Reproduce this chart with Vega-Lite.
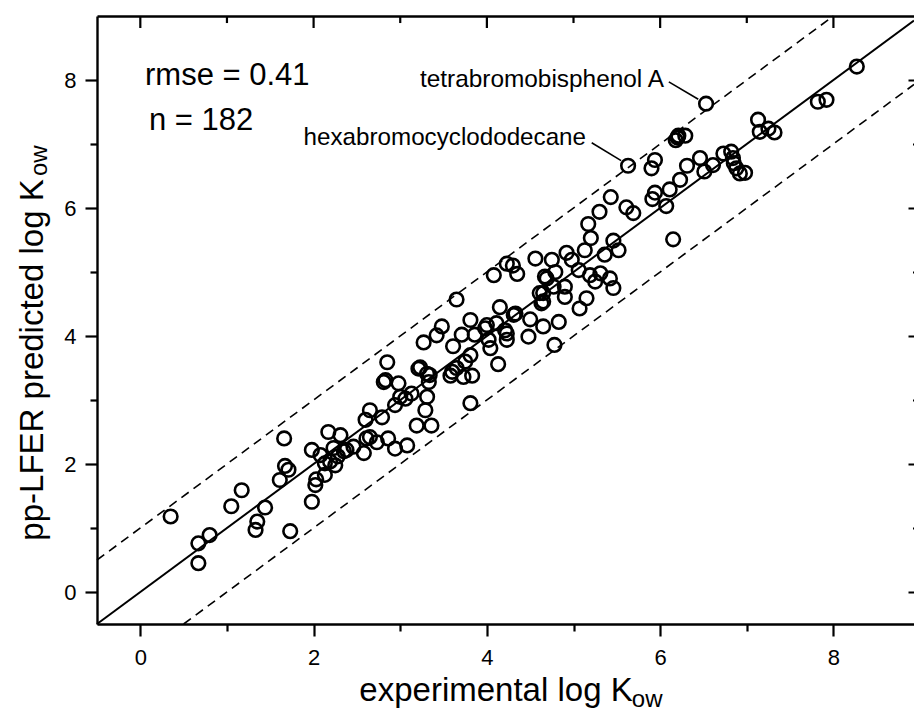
{
  "$schema": "https://vega.github.io/schema/vega-lite/v6.json",
  "width": 817,
  "height": 608,
  "autosize": {"type": "none"},
  "padding": {"left": 97, "top": 16, "right": 0, "bottom": 90},
  "background": "white",
  "config": {
    "view": {"stroke": null},
    "font": "Liberation Sans",
    "axis": {"domainColor": "black", "domainWidth": 2.4, "tickColor": "black", "tickWidth": 2.2, "labelColor": "black", "titleColor": "black", "gridColor": "black", "gridOpacity": 1, "gridWidth": 2.2}
  },
  "datasets": {
    "kow": [
      {"experimental":0.35,"predicted":1.18},{"experimental":0.67,"predicted":0.76},{"experimental":0.80,"predicted":0.89},{"experimental":0.67,"predicted":0.45},{"experimental":1.05,"predicted":1.34},{"experimental":1.17,"predicted":1.59},{"experimental":1.35,"predicted":1.10},{"experimental":1.33,"predicted":0.97},{"experimental":1.44,"predicted":1.32},{"experimental":1.73,"predicted":0.95},{"experimental":1.61,"predicted":1.75},{"experimental":1.67,"predicted":1.97},{"experimental":1.71,"predicted":1.91},{"experimental":1.66,"predicted":2.40},{"experimental":1.98,"predicted":1.41},{"experimental":2.02,"predicted":1.67},{"experimental":2.03,"predicted":1.76},{"experimental":1.98,"predicted":2.22},{"experimental":2.08,"predicted":2.14},{"experimental":2.13,"predicted":1.83},{"experimental":2.13,"predicted":2.01},{"experimental":2.17,"predicted":2.50},{"experimental":2.31,"predicted":2.45},{"experimental":2.23,"predicted":2.25},{"experimental":2.38,"predicted":2.22},{"experimental":2.46,"predicted":2.27},{"experimental":2.25,"predicted":1.98},{"experimental":2.58,"predicted":2.17},{"experimental":2.60,"predicted":2.69},{"experimental":2.61,"predicted":2.40},{"experimental":2.19,"predicted":2.04},{"experimental":2.28,"predicted":2.12},{"experimental":2.35,"predicted":2.20},
      {"experimental":2.65,"predicted":2.84},{"experimental":2.65,"predicted":2.42},{"experimental":2.73,"predicted":2.34},{"experimental":2.79,"predicted":2.73},{"experimental":2.81,"predicted":3.28},{"experimental":2.85,"predicted":3.59},{"experimental":2.94,"predicted":2.92},{"experimental":2.86,"predicted":2.40},{"experimental":2.94,"predicted":2.24},{"experimental":3.06,"predicted":3.02},{"experimental":3.00,"predicted":3.05},{"experimental":3.13,"predicted":3.10},{"experimental":3.08,"predicted":2.29},{"experimental":3.19,"predicted":2.60},{"experimental":3.21,"predicted":3.49},{"experimental":3.31,"predicted":3.05},{"experimental":3.29,"predicted":2.84},{"experimental":3.36,"predicted":2.60},{"experimental":3.33,"predicted":3.28},{"experimental":3.31,"predicted":3.41},{"experimental":3.60,"predicted":3.44},{"experimental":2.83,"predicted":3.31},{"experimental":2.98,"predicted":3.26},{"experimental":3.23,"predicted":3.51},{"experimental":3.34,"predicted":3.39},{"experimental":3.65,"predicted":3.50},{"experimental":3.58,"predicted":3.38},{"experimental":3.73,"predicted":3.36},{"experimental":3.83,"predicted":3.38},{"experimental":3.75,"predicted":3.60},{"experimental":3.81,"predicted":2.95},
      {"experimental":4.08,"predicted":4.95},{"experimental":4.35,"predicted":4.97},{"experimental":4.67,"predicted":4.93},{"experimental":3.65,"predicted":4.57},{"experimental":4.15,"predicted":4.45},{"experimental":4.33,"predicted":4.35},{"experimental":4.50,"predicted":4.26},{"experimental":4.65,"predicted":4.54},{"experimental":4.61,"predicted":4.67},{"experimental":3.81,"predicted":4.25},{"experimental":3.48,"predicted":4.15},{"experimental":3.42,"predicted":4.01},{"experimental":3.27,"predicted":3.90},{"experimental":3.71,"predicted":4.02},{"experimental":3.86,"predicted":4.02},{"experimental":4.00,"predicted":4.17},{"experimental":4.11,"predicted":4.20},{"experimental":4.02,"predicted":3.94},{"experimental":3.61,"predicted":3.84},{"experimental":3.81,"predicted":3.70},{"experimental":4.04,"predicted":3.81},{"experimental":4.23,"predicted":3.94},{"experimental":4.23,"predicted":4.04},{"experimental":4.48,"predicted":3.99},{"experimental":4.65,"predicted":4.15},{"experimental":4.78,"predicted":3.86},{"experimental":4.13,"predicted":3.56},{"experimental":3.98,"predicted":4.12},{"experimental":4.21,"predicted":4.09},{"experimental":4.31,"predicted":4.33},
      {"experimental":5.63,"predicted":6.66},{"experimental":5.90,"predicted":6.62},{"experimental":5.94,"predicted":6.75},{"experimental":5.43,"predicted":6.17},{"experimental":5.61,"predicted":6.01},{"experimental":5.69,"predicted":5.92},{"experimental":5.30,"predicted":5.94},{"experimental":5.17,"predicted":5.75},{"experimental":5.91,"predicted":6.14},{"experimental":5.94,"predicted":6.24},{"experimental":6.07,"predicted":6.03},{"experimental":6.11,"predicted":6.29},{"experimental":6.23,"predicted":6.44},{"experimental":6.31,"predicted":6.66},{"experimental":6.46,"predicted":6.78},{"experimental":6.51,"predicted":6.57},{"experimental":6.61,"predicted":6.67},{"experimental":6.15,"predicted":5.51},{"experimental":5.20,"predicted":5.53},{"experimental":5.13,"predicted":5.34},{"experimental":5.46,"predicted":5.49},{"experimental":5.52,"predicted":5.34},{"experimental":5.36,"predicted":5.27},{"experimental":4.92,"predicted":5.30},{"experimental":4.98,"predicted":5.19},{"experimental":4.56,"predicted":5.21},{"experimental":4.75,"predicted":5.19},{"experimental":4.23,"predicted":5.13},{"experimental":4.30,"predicted":5.10},{"experimental":4.79,"predicted":5.00},{"experimental":4.69,"predicted":4.90},{"experimental":4.77,"predicted":4.77},{"experimental":4.90,"predicted":4.77},{"experimental":5.06,"predicted":5.03},{"experimental":5.19,"predicted":4.95},{"experimental":5.31,"predicted":4.98},{"experimental":5.25,"predicted":4.85},{"experimental":5.42,"predicted":4.90},{"experimental":5.46,"predicted":4.75},{"experimental":5.15,"predicted":4.59},{"experimental":5.07,"predicted":4.43},{"experimental":4.90,"predicted":4.61},{"experimental":4.65,"predicted":4.67},{"experimental":4.63,"predicted":4.51},{"experimental":4.83,"predicted":4.22},
      {"experimental":6.53,"predicted":7.63},{"experimental":8.27,"predicted":8.21},{"experimental":7.82,"predicted":7.66},{"experimental":7.92,"predicted":7.69},{"experimental":7.13,"predicted":7.38},{"experimental":7.15,"predicted":7.19},{"experimental":7.25,"predicted":7.24},{"experimental":7.32,"predicted":7.18},{"experimental":6.21,"predicted":7.13},{"experimental":6.29,"predicted":7.13},{"experimental":6.18,"predicted":7.06},{"experimental":6.73,"predicted":6.85},{"experimental":6.82,"predicted":6.88},{"experimental":6.84,"predicted":6.78},{"experimental":6.88,"predicted":6.62},{"experimental":6.92,"predicted":6.54},{"experimental":6.98,"predicted":6.55},{"experimental":6.20,"predicted":7.10},{"experimental":6.85,"predicted":6.70}
    ],
    "majorTicks": [{"tick": 0}, {"tick": 2}, {"tick": 4}, {"tick": 6}, {"tick": 8}],
    "minorTicks": [{"tick": 1}, {"tick": 3}, {"tick": 5}, {"tick": 7}]
  },
  "layer": [
    {
      "data": {"name": "kow"},
      "mark": {"type": "point", "shape": "circle", "filled": false, "size": 185, "strokeWidth": 2.6, "color": "black", "opacity": 1},
      "encoding": {
        "x": {
          "field": "experimental", "type": "quantitative",
          "scale": {"domain": [-0.5, 8.93], "nice": false, "zero": false},
          "axis": {
            "orient": "bottom", "values": [0,2,4,6,8], "tickSize": 12, "grid": false,
            "labelFont": "Liberation Sans", "labelFontSize": 22, "labelPadding": 11, "labelFlush": false, "labelOverlap": false,
            "title": "experimental log K", "titleX": 398.5, "titleY": 76, "titleAlign": "center", "titleBaseline": "alphabetic", "titleAngle": 0,
            "titleFont": "Liberation Sans", "titleFontSize": 33, "titleFontWeight": "normal"
          }
        },
        "y": {
          "field": "predicted", "type": "quantitative",
          "scale": {"domain": [-0.5, 9], "nice": false, "zero": false},
          "axis": {
            "orient": "left", "values": [0,2,4,6,8], "tickSize": 12,
            "grid": true, "gridDash": [0, 811, 6, 0],
            "labelFont": "Liberation Sans", "labelFontSize": 22, "labelPadding": 9, "labelFlush": false, "labelOverlap": false,
            "title": "pp-LFER predicted log K", "titleX": -55, "titleY": 343.5, "titleAlign": "center", "titleBaseline": "alphabetic", "titleAngle": 270,
            "titleFont": "Liberation Sans", "titleFontSize": 33, "titleFontWeight": "normal"
          }
        }
      }
    },
    {
      "data": {"values": [{}]},
      "mark": {"type": "rule", "strokeWidth": 2, "color": "black"},
      "encoding": {
        "x": {"datum": -0.5, "type": "quantitative", "scale": {"domain": [-0.5, 8.93], "nice": false, "zero": false},
          "axis": {"orient": "bottom", "values": [1,3,5,7], "labels": false, "title": null, "domain": false, "tickSize": 7, "grid": false}},
        "y": {"datum": -0.5, "type": "quantitative", "scale": {"domain": [-0.5, 9], "nice": false, "zero": false},
          "axis": {"orient": "left", "values": [1,3,5,7], "labels": false, "title": null, "domain": false, "tickSize": 7,
            "grid": true, "gridDash": [0, 815.5, 1.5, 0]}},
        "x2": {"datum": 8.93},
        "y2": {"datum": 8.93}
      }
    },
    {
      "data": {"name": "majorTicks"},
      "mark": {"type": "rule", "strokeWidth": 2.2, "color": "black"},
      "encoding": {
        "x": {"field": "tick", "type": "quantitative", "scale": {"domain": [-0.5, 8.93], "nice": false, "zero": false}, "axis": null},
        "y": {"datum": 9, "type": "quantitative", "scale": {"domain": [-0.5, 9], "nice": false, "zero": false}, "axis": null},
        "y2": {"datum": 8.8125}
      }
    },
    {
      "data": {"name": "minorTicks"},
      "mark": {"type": "rule", "strokeWidth": 2.2, "color": "black"},
      "encoding": {
        "x": {"field": "tick", "type": "quantitative", "scale": {"domain": [-0.5, 8.93], "nice": false, "zero": false}, "axis": null},
        "y": {"datum": 9, "type": "quantitative", "scale": {"domain": [-0.5, 9], "nice": false, "zero": false}, "axis": null},
        "y2": {"datum": 8.89}
      }
    },
    {
      "data": {"values": [{}]},
      "mark": {"type": "rule", "strokeWidth": 1.6, "color": "black", "strokeDash": [9, 6]},
      "encoding": {
        "x": {"datum": -0.5, "type": "quantitative", "scale": {"domain": [-0.5, 8.93], "nice": false, "zero": false}, "axis": null},
        "y": {"datum": 0.5, "type": "quantitative", "scale": {"domain": [-0.5, 9], "nice": false, "zero": false}, "axis": null},
        "x2": {"datum": 8.0},
        "y2": {"datum": 9.0}
      }
    },
    {
      "data": {"values": [{}]},
      "mark": {"type": "rule", "strokeWidth": 1.6, "color": "black", "strokeDash": [9, 6]},
      "encoding": {
        "x": {"datum": 0.5, "type": "quantitative", "scale": {"domain": [-0.5, 8.93], "nice": false, "zero": false}, "axis": null},
        "y": {"datum": -0.5, "type": "quantitative", "scale": {"domain": [-0.5, 9], "nice": false, "zero": false}, "axis": null},
        "x2": {"datum": 8.93},
        "y2": {"datum": 7.93}
      }
    },
    {
      "data": {"values": [{}]},
      "mark": {"type": "rule", "strokeWidth": 1.6, "color": "black"},
      "encoding": {
        "x": {"datum": 6.10, "type": "quantitative", "scale": {"domain": [-0.5, 8.93], "nice": false, "zero": false},
          "axis": {"orient": "top", "ticks": false, "labels": false, "title": null, "domain": true, "grid": false}},
        "y": {"datum": 7.97, "type": "quantitative", "scale": {"domain": [-0.5, 9], "nice": false, "zero": false}, "axis": null},
        "x2": {"datum": 6.44},
        "y2": {"datum": 7.70}
      }
    },
    {
      "data": {"values": [{}]},
      "mark": {"type": "rule", "strokeWidth": 1.6, "color": "black"},
      "encoding": {
        "x": {"datum": 5.21, "type": "quantitative", "scale": {"domain": [-0.5, 8.93], "nice": false, "zero": false}, "axis": null},
        "y": {"datum": 7.02, "type": "quantitative", "scale": {"domain": [-0.5, 9], "nice": false, "zero": false}, "axis": null},
        "x2": {"datum": 5.55},
        "y2": {"datum": 6.74}
      }
    },
    {
      "data": {"values": [{}]},
      "mark": {"type": "text", "text": "rmse = 0.41", "align": "left", "baseline": "alphabetic", "fontSize": 31, "font": "Liberation Sans", "color": "black"},
      "encoding": {
        "x": {"datum": 0.054, "type": "quantitative", "scale": {"domain": [-0.5, 8.93], "nice": false, "zero": false}, "axis": null},
        "y": {"datum": 7.92, "type": "quantitative", "scale": {"domain": [-0.5, 9], "nice": false, "zero": false}, "axis": null}
      }
    },
    {
      "data": {"values": [{}]},
      "mark": {"type": "text", "text": "n = 182", "align": "left", "baseline": "alphabetic", "fontSize": 31, "font": "Liberation Sans", "color": "black"},
      "encoding": {
        "x": {"datum": 0.10, "type": "quantitative", "scale": {"domain": [-0.5, 8.93], "nice": false, "zero": false}, "axis": null},
        "y": {"datum": 7.22, "type": "quantitative", "scale": {"domain": [-0.5, 9], "nice": false, "zero": false}, "axis": null}
      }
    },
    {
      "data": {"values": [{}]},
      "mark": {"type": "text", "text": "tetrabromobisphenol A", "align": "right", "baseline": "alphabetic", "fontSize": 24.4, "font": "Liberation Sans", "color": "black"},
      "encoding": {
        "x": {"datum": 6.044, "type": "quantitative", "scale": {"domain": [-0.5, 8.93], "nice": false, "zero": false}, "axis": null},
        "y": {"datum": 7.89, "type": "quantitative", "scale": {"domain": [-0.5, 9], "nice": false, "zero": false}, "axis": null}
      }
    },
    {
      "data": {"values": [{}]},
      "mark": {"type": "text", "text": "hexabromocyclododecane", "align": "right", "baseline": "alphabetic", "fontSize": 24.2, "font": "Liberation Sans", "color": "black"},
      "encoding": {
        "x": {"datum": 5.144, "type": "quantitative", "scale": {"domain": [-0.5, 8.93], "nice": false, "zero": false}, "axis": null},
        "y": {"datum": 6.98, "type": "quantitative", "scale": {"domain": [-0.5, 9], "nice": false, "zero": false}, "axis": null}
      }
    },
    {
      "data": {"values": [{}]},
      "mark": {"type": "text", "text": "ow", "align": "center", "baseline": "middle", "fontSize": 24, "font": "Liberation Sans", "color": "black"},
      "encoding": {
        "x": {"datum": 5.85, "type": "quantitative", "scale": {"domain": [-0.5, 8.93], "nice": false, "zero": false}, "axis": null},
        "y": {"datum": -1.69, "type": "quantitative", "scale": {"domain": [-0.5, 9], "nice": false, "zero": false}, "axis": null}
      }
    },
    {
      "data": {"values": [{}]},
      "mark": {"type": "text", "text": "ow", "align": "center", "baseline": "middle", "angle": 270, "fontSize": 24, "font": "Liberation Sans", "color": "black"},
      "encoding": {
        "x": {"datum": -1.158, "type": "quantitative", "scale": {"domain": [-0.5, 8.93], "nice": false, "zero": false}, "axis": null},
        "y": {"datum": 6.74, "type": "quantitative", "scale": {"domain": [-0.5, 9], "nice": false, "zero": false}, "axis": null}
      }
    }
  ],
  "resolve": {"axis": {"x": "independent", "y": "independent"}}
}
